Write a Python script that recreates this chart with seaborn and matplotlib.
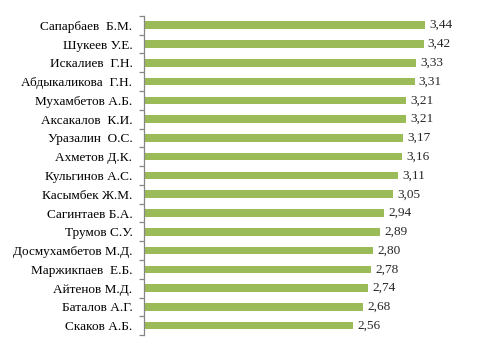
import numpy as np
import pandas as pd
import seaborn as sns
import matplotlib.pyplot as plt
from matplotlib.ticker import FixedLocator

names = [
    "Сапарбаев  Б.М.", "Шукеев У.Е.", "Искалиев  Г.Н.", "Абдыкаликова  Г.Н.",
    "Мухамбетов А.Б.", "Аксакалов  К.И.", "Уразалин  О.С.", "Ахметов Д.К.",
    "Кульгинов А.С.", "Касымбек Ж.М.", "Сагинтаев Б.А.", "Трумов С.У.",
    "Досмухамбетов М.Д.", "Маржикпаев  Е.Б.", "Айтенов М.Д.", "Баталов А.Г.",
    "Скаков А.Б.",
]
scores = [3.44, 3.42, 3.33, 3.31, 3.21, 3.21, 3.17, 3.16, 3.11, 3.05,
          2.94, 2.89, 2.80, 2.78, 2.74, 2.68, 2.56]

df = pd.DataFrame({"name": names, "score": scores})

sns.set_style("white")
plt.rcParams['font.family'] = ['Liberation Serif', 'DejaVu Serif']

fig = plt.figure(figsize=(4.84, 3.52), dpi=100)
ax = fig.add_axes([0.298, 0.048, 0.675, 0.907])

sns.barplot(data=df, x="score", y="name", orient="h", color="#9BBB59",
            width=0.4, saturation=1, linewidth=0, ax=ax)

ax.set_xlim(0, 4)
ax.set_ylim(len(names) - 0.5, -0.5)
ax.set(xlabel="", ylabel="")
ax.xaxis.set_visible(False)

for side in ["top", "right", "bottom"]:
    ax.spines[side].set_visible(False)
ax.spines["left"].set_color("#868686")
ax.spines["left"].set_linewidth(0.9)

ax.tick_params(axis="y", which="major", left=False, length=0, pad=8.5,
               labelsize=9.5, labelcolor="black")
ax.yaxis.set_minor_locator(FixedLocator(np.arange(-0.5, len(names), 1)))
ax.tick_params(axis="y", which="minor", left=True, length=3.5, width=0.9,
               color="#868686", direction="out")

ax.bar_label(ax.containers[0],
             labels=[f"{v:.2f}".replace(".", ",") for v in scores],
             padding=3, fontsize=9.5)

fig.savefig("out.png", dpi=100)
